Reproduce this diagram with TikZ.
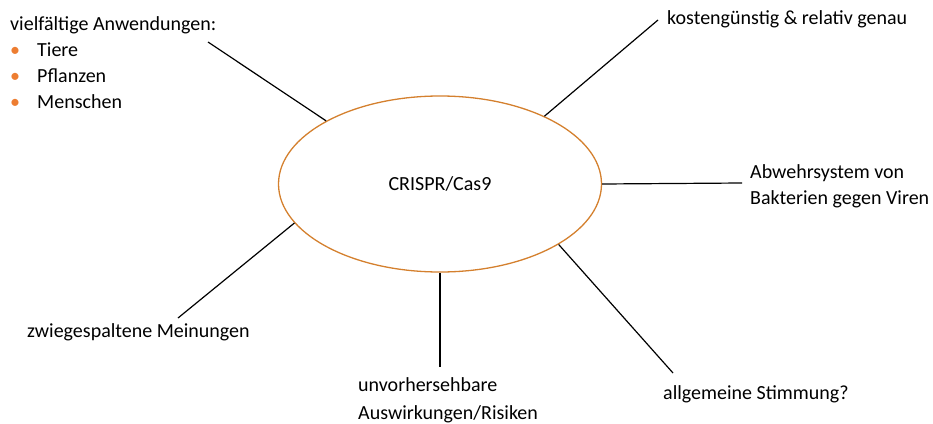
\documentclass[tikz,border=0pt]{standalone}
\usepackage{fontspec}
\setmainfont{Carlito}
\usetikzlibrary{shapes.geometric}

\definecolor{ringorange}{HTML}{D4802E}
\definecolor{dotorange}{HTML}{ED7D31}
\newcommand{\orangedot}{\makebox[27pt][l]{\textcolor{dotorange}{\textbullet}}}

\begin{document}
\begin{tikzpicture}[x=1pt,y=-1pt,
  every node/.style={font=\fontsize{20}{26}\selectfont, inner sep=0pt},
  spoke/.style={draw=black, line width=1.2pt},
  note/.style={anchor=west, align=left}]
\useasboundingbox (0,0) rectangle (933,423);
% Centre ellipse
\node[ellipse, draw=ringorange, line width=1.3pt, minimum width=323pt, minimum height=176pt] (crispr) at (440,184) {CRISPR/Cas9};
% Free ends of the spokes
\coordinate (endapps) at (208,42);
\coordinate (endcost) at (658,20);
\coordinate (enddefence) at (742,183);
\coordinate (endopinion) at (178,318);
\coordinate (endrisk) at (440,367);
\coordinate (endmood) at (673,373);
% Labels
\node[anchor=north west, align=left] (apps) at (10,16) {vielfältige Anwendungen:\\ \orangedot Tiere\\ \orangedot Pflanzen\\ \orangedot Menschen};
\node[note] (cost) at (667,19) {kostengünstig \& relativ genau};
\node[note] (defence) at (750,186) {Abwehrsystem von\\ Bakterien gegen Viren};
\node[note] (opinion) at (27,332) {zwiegespaltene Meinungen};
\node[note, font=\fontsize{20}{28}\selectfont] (risk) at (358,400) {unvorhersehbare\\ Auswirkungen/Risiken};
\node[note] (mood) at (663,394) {allgemeine Stimmung?};
% Spokes from ellipse
\draw[spoke] (crispr.151) -- (endapps);
\draw[spoke] (crispr.33) -- (endcost);
\draw[spoke] (crispr.0) -- (enddefence);
\draw[spoke] (crispr.195) -- (endopinion);
\draw[spoke] (crispr.270) -- (endrisk);
\draw[spoke] (crispr.333) -- (endmood);
\end{tikzpicture}
\end{document}
